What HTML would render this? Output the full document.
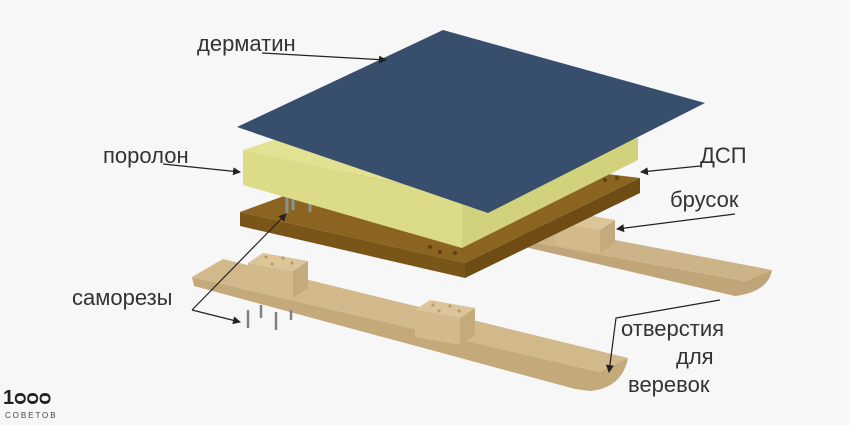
<!DOCTYPE html>
<html><head><meta charset="utf-8"><style>
html,body{margin:0;padding:0;background:#f7f7f7}
svg{display:block}
text{font-family:"Liberation Sans","DejaVu Sans",sans-serif;fill:#333;font-size:22px}
</style></head><body>
<svg width="850" height="425" viewBox="0 0 850 425">
<defs><marker id="a" markerWidth="8" markerHeight="8" refX="7" refY="4" orient="auto" markerUnits="userSpaceOnUse"><path d="M0,0 L8,4 L0,8 Z" fill="#222"/></marker></defs>
<rect width="850" height="425" fill="#f7f7f7"/>
<!-- back runner -->
<path d="M520,240 L745,281 L772,270 Q768,292 735,296 L525,247 Z" fill="#bfa577"/>
<polygon points="500,218 772,270 745,281 520,240" fill="#cdb488"/>
<!-- back block -->
<polygon points="555,222 570,212 615,220 600,230" fill="#dcc598"/>
<polygon points="555,222 600,230 600,253 555,245" fill="#d2ba8c"/>
<polygon points="600,230 615,220 615,243 600,253" fill="#c4aa7c"/>
<!-- DSP -->
<polygon points="240,212 410,150 640,178 465,263" fill="#8a6420"/>
<polygon points="240,212 465,263 465,278 240,226" fill="#7a5518"/>
<polygon points="465,263 640,178 640,193 465,278" fill="#6e4c14"/>
<g fill="#5e4210"><circle cx="430" cy="247" r="2"/><circle cx="440" cy="252" r="2"/><circle cx="455" cy="253" r="2"/><circle cx="612" cy="170" r="2"/><circle cx="605" cy="180" r="2"/><circle cx="617" cy="178" r="2"/></g>
<g stroke="#8a8f98" stroke-width="3"><line x1="287" y1="197" x2="287" y2="213"/><line x1="293" y1="197" x2="293" y2="210"/><line x1="310" y1="203" x2="310" y2="212"/></g>
<!-- foam -->
<polygon points="243,150 420,92 638,138 462,197" fill="#e3e293"/>
<polygon points="243,150 462,197 462,248 243,185" fill="#dcdb88"/>
<polygon points="462,197 638,138 638,160 462,248" fill="#d2d17c"/>
<!-- dermatin -->
<polygon points="237,127 443,30 705,103 488,213" fill="#384e6d"/>
<!-- front runner -->
<path d="M192,277 L600,372 L628,358 Q622,388 590,391 L575,389 L194,286 Z" fill="#c4aa7a"/>
<polygon points="192,277 223,259 628,358 600,372" fill="#d2b98c"/>
<!-- front blocks -->
<polygon points="248,263 263,253 308,261 293,271" fill="#dcc598"/>
<polygon points="248,263 293,271 293,298 248,290" fill="#d2ba8c"/>
<polygon points="293,271 308,261 308,288 293,298" fill="#c4aa7c"/>
<g fill="#b89c6c"><circle cx="266" cy="257" r="1.6"/><circle cx="283" cy="258" r="1.6"/><circle cx="272" cy="264" r="1.6"/><circle cx="292" cy="263" r="1.6"/></g>
<polygon points="415,310 430,300 475,308 460,318" fill="#dcc598"/>
<polygon points="415,310 460,318 460,345 415,337" fill="#d2ba8c"/>
<polygon points="460,318 475,308 475,335 460,345" fill="#c4aa7c"/>
<g fill="#b89c6c"><circle cx="433" cy="305" r="1.6"/><circle cx="450" cy="306" r="1.6"/><circle cx="439" cy="311" r="1.6"/><circle cx="459" cy="311" r="1.6"/></g>
<!-- screws -->
<g stroke="#7d828a" stroke-width="2.5"><line x1="248" y1="310" x2="248" y2="328"/><line x1="261" y1="305" x2="261" y2="318"/><line x1="276" y1="312" x2="276" y2="330"/><line x1="291" y1="310" x2="291" y2="320"/></g>
<!-- leaders -->
<g stroke="#222" stroke-width="1.2" fill="none">
<line x1="262" y1="53" x2="386" y2="60" marker-end="url(#a)"/>
<line x1="163" y1="164" x2="240" y2="172" marker-end="url(#a)"/>
<line x1="700" y1="166" x2="641" y2="172" marker-end="url(#a)"/>
<line x1="735" y1="214" x2="617" y2="229" marker-end="url(#a)"/>
<polyline points="192,310 286,214" marker-end="url(#a)"/>
<polyline points="192,310 240,322" marker-end="url(#a)"/>
<polyline points="720,300 616,318 609,372" marker-end="url(#a)"/>
</g>
<text x="197" y="51">дерматин</text>
<text x="103" y="163">поролон</text>
<text x="700" y="163">ДСП</text>
<text x="670" y="207">брусок</text>
<text x="72" y="305">саморезы</text>
<text x="621" y="336">отверстия</text>
<text x="676" y="364">для</text>
<text x="628" y="392">веревок</text>
<text x="3" y="404" style="font-size:20px;font-weight:bold;fill:#222">1ᴑᴑᴑ</text>
<text x="5" y="418" style="font-size:8px;letter-spacing:2px;fill:#444">СОВЕТОВ</text>
</svg>
</body></html>
